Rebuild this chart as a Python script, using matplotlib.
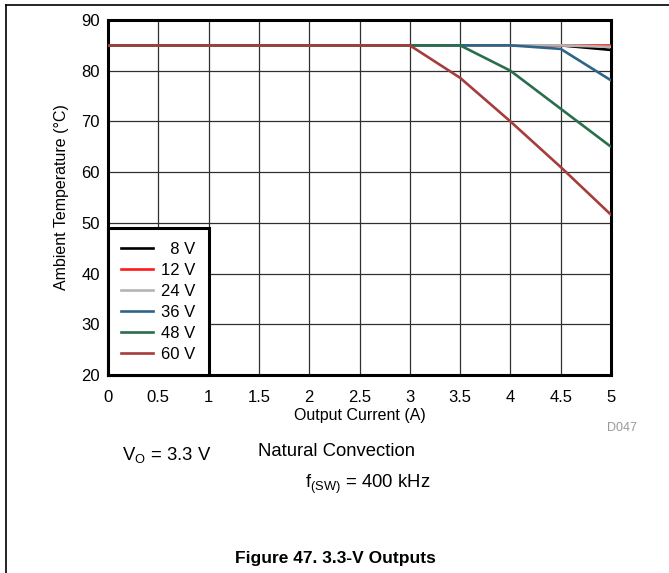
import matplotlib
matplotlib.use("Agg")
import matplotlib.pyplot as plt
from matplotlib.lines import Line2D

plt.rcParams['font.family'] = ['Liberation Sans', 'DejaVu Sans']

current = [0, 0.5, 1, 1.5, 2, 2.5, 3, 3.5, 4, 4.5, 5]
temp_8v = [85, 85, 85, 85, 85, 85, 85, 85, 85, 85, 84.1]
temp_12v = [85, 85, 85, 85, 85, 85, 85, 85, 85, 85, 85]
temp_24v = [85, 85, 85, 85, 85, 85, 85, 85, 85, 85, 84.7]
temp_36v = [85, 85, 85, 85, 85, 85, 85, 85, 85, 84.3, 78.1]
temp_48v = [85, 85, 85, 85, 85, 85, 85, 85, 80.0, 72.5, 65.0]
temp_60v = [85, 85, 85, 85, 85, 85, 85, 78.6, 70.0, 61.0, 51.6]
labels = ['  8 V', '12 V', '24 V', '36 V', '48 V', '60 V']
colors = ['#000000', '#ff1a1a', '#b4b4b4', '#2d6488', '#2b6e4c', '#a63c3c']


def main():
    fig = plt.figure(figsize=(6.69, 5.73), dpi=100)
    ax = fig.add_axes([108 / 669, 1 - 375 / 573, 503 / 669, 355 / 573])

    series = [temp_8v, temp_12v, temp_24v, temp_36v, temp_48v, temp_60v]
    for ys, lab, col in zip(series, labels, colors):
        ax.plot(current, ys, color=col, lw=1.9, label=lab, zorder=3)

    ax.set_xlim(0, 5)
    ax.set_ylim(20, 90)
    ax.set_xticks([0, 0.5, 1, 1.5, 2, 2.5, 3, 3.5, 4, 4.5, 5])
    ax.set_xticklabels(['0', '0.5', '1', '1.5', '2', '2.5', '3', '3.5', '4', '4.5', '5'])
    ax.set_yticks(range(20, 91, 10))
    ax.grid(True, color='#303030', lw=0.9)
    ax.tick_params(length=0, labelsize=12)
    ax.tick_params(axis='x', pad=11)
    ax.tick_params(axis='y', pad=6)
    for s in ax.spines.values():
        s.set_linewidth(2.2)
    ax.set_xlabel('Output Current (A)', fontsize=11.5, labelpad=2)
    ax.set_ylabel('Ambient Temperature (°C)', fontsize=11.5, labelpad=9)

    leg = ax.legend(loc='lower left', fontsize=12, fancybox=False,
                    framealpha=1, edgecolor='black', borderaxespad=0,
                    handlelength=1.9, labelspacing=0.36, borderpad=0.8,
                    handletextpad=0.5)
    leg.get_frame().set_linewidth(2.2)

    fig.text(637 / 669, 1 - 428 / 573, 'D047', color='#999999', fontsize=9,
             ha='right', va='center')
    fig.text(122 / 669, 1 - 455 / 573, r'V$_\mathregular{O}$ = 3.3 V', fontsize=13.3,
             ha='left', va='center')
    fig.text(258 / 669, 1 - 452 / 573, 'Natural Convection', fontsize=13.3,
             ha='left', va='center')
    fig.text(305 / 669, 1 - 484 / 573, r'f$_\mathregular{(SW)}$ = 400 kHz', fontsize=13.3,
             ha='left', va='center')
    fig.text(335 / 669, 1 - 558 / 573, 'Figure 47. 3.3-V Outputs', fontsize=12.5,
             fontweight='bold', ha='center', va='center')

    # frame lines on top and left edges
    fig.add_artist(Line2D([6 / 669, 1], [1 - 5 / 573, 1 - 5 / 573], color='black',
                          lw=1.2, transform=fig.transFigure))
    fig.add_artist(Line2D([6 / 669, 6 / 669], [0, 1 - 5 / 573], color='black',
                          lw=1.2, transform=fig.transFigure))

    fig.savefig('out.png', dpi=100)


if __name__ == "__main__":
    main()
